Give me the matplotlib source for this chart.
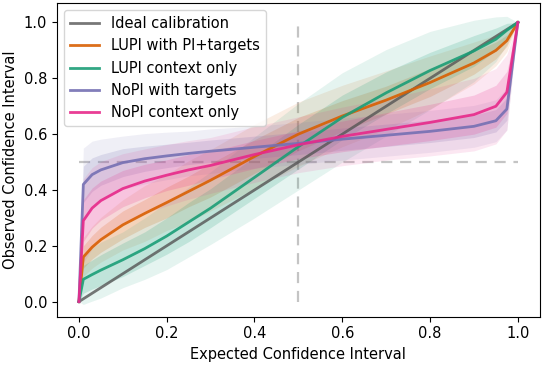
import numpy as np
import matplotlib
matplotlib.use('Agg')
import matplotlib.pyplot as plt

# expected confidence levels (x grid)
expected = [0.0, 0.01, 0.03, 0.05, 0.1, 0.15, 0.2, 0.25, 0.3, 0.4, 0.5, 0.6, 0.7, 0.8, 0.9, 0.95, 0.975, 1.0]

# observed confidence per method (mean curve)
lupi_pi_targets = [0.0, 0.16, 0.195, 0.222, 0.275, 0.316, 0.355, 0.395, 0.435, 0.52, 0.60, 0.665, 0.722, 0.785, 0.855, 0.90, 0.935, 1.0]
lupi_context = [0.0, 0.08, 0.097, 0.113, 0.15, 0.19, 0.235, 0.285, 0.335, 0.445, 0.555, 0.66, 0.748, 0.828, 0.898, 0.94, 0.972, 1.0]
nopi_targets = [0.0, 0.42, 0.455, 0.472, 0.498, 0.512, 0.522, 0.531, 0.539, 0.553, 0.567, 0.582, 0.596, 0.61, 0.628, 0.648, 0.69, 1.0]
nopi_context = [0.0, 0.29, 0.335, 0.362, 0.405, 0.432, 0.453, 0.472, 0.488, 0.527, 0.562, 0.592, 0.617, 0.642, 0.67, 0.70, 0.75, 1.0]

# band half-widths (outer, inner) per method
lupi_pi_targets_outer = [0.0, 0.07, 0.075, 0.08, 0.09, 0.10, 0.10, 0.11, 0.11, 0.115, 0.115, 0.11, 0.105, 0.095, 0.075, 0.055, 0.04, 0.0]
lupi_pi_targets_inner = [0.0, 0.04, 0.042, 0.045, 0.05, 0.05, 0.055, 0.055, 0.06, 0.06, 0.06, 0.055, 0.05, 0.05, 0.04, 0.03, 0.02, 0.0]
lupi_context_outer = [0.0, 0.09, 0.095, 0.10, 0.10, 0.11, 0.12, 0.125, 0.13, 0.145, 0.155, 0.16, 0.155, 0.14, 0.11, 0.08, 0.05, 0.0]
lupi_context_inner = [0.0, 0.05, 0.052, 0.055, 0.06, 0.06, 0.065, 0.07, 0.07, 0.075, 0.08, 0.08, 0.075, 0.065, 0.055, 0.04, 0.025, 0.0]
nopi_targets_outer = [0.0, 0.13, 0.12, 0.11, 0.095, 0.09, 0.085, 0.08, 0.08, 0.075, 0.075, 0.075, 0.075, 0.075, 0.075, 0.075, 0.075, 0.0]
nopi_targets_inner = [0.0, 0.065, 0.06, 0.055, 0.05, 0.045, 0.042, 0.04, 0.04, 0.04, 0.04, 0.04, 0.04, 0.04, 0.04, 0.04, 0.04, 0.0]
nopi_context_outer = [0.0, 0.15, 0.145, 0.14, 0.125, 0.115, 0.11, 0.105, 0.10, 0.10, 0.10, 0.105, 0.11, 0.12, 0.13, 0.135, 0.135, 0.0]
nopi_context_inner = [0.0, 0.075, 0.072, 0.07, 0.065, 0.06, 0.055, 0.055, 0.05, 0.05, 0.05, 0.055, 0.06, 0.065, 0.07, 0.075, 0.075, 0.0]

labels = ['LUPI with PI+targets', 'LUPI context only', 'NoPI with targets', 'NoPI context only']
colors = ['#d95f02', '#1b9e77', '#7570b3', '#e7298a']
curves = [lupi_pi_targets, lupi_context, nopi_targets, nopi_context]
outers = [lupi_pi_targets_outer, lupi_context_outer, nopi_targets_outer, nopi_context_outer]
inners = [lupi_pi_targets_inner, lupi_context_inner, nopi_targets_inner, nopi_context_inner]

x = np.array(expected)

plt.rcParams['font.size'] = 10.5
fig, ax = plt.subplots(figsize=(5.48, 3.67), dpi=100)
fig.subplots_adjust(left=0.104, right=0.985, top=0.992, bottom=0.137)

ax.plot([0.5, 0.5], [0, 1], ls='--', dashes=(5, 3.5), color='#c4c4c4', lw=1.6, zorder=1)
ax.plot([0, 1], [0.5, 0.5], ls='--', dashes=(5, 3.5), color='#c4c4c4', lw=1.6, zorder=1)

for y, o, i, c in zip(curves, outers, inners, colors):
    y = np.array(y)
    o = np.array(o)
    i = np.array(i)
    ax.fill_between(x, y - o, y + o, color=c, alpha=0.11, lw=0)
    ax.fill_between(x, y - i, y + i, color=c, alpha=0.18, lw=0)

ax.plot([0, 1], [0, 1], color='#555555', lw=2, alpha=0.8, label='Ideal calibration', zorder=3)
for y, c, lab in zip(curves, colors, labels):
    ax.plot(x, y, color=c, lw=2, alpha=0.9, label=lab, zorder=4)

ax.set_xlim(-0.05, 1.05)
ax.set_ylim(-0.054, 1.07)
ax.set_xticks(np.arange(0, 1.01, 0.2))
ax.set_yticks(np.arange(0, 1.01, 0.2))
ax.set_xlabel('Expected Confidence Interval')
ax.set_ylabel('Observed Confidence Interval')
ax.legend(loc='upper left')

fig.savefig('out.png', dpi=100)
